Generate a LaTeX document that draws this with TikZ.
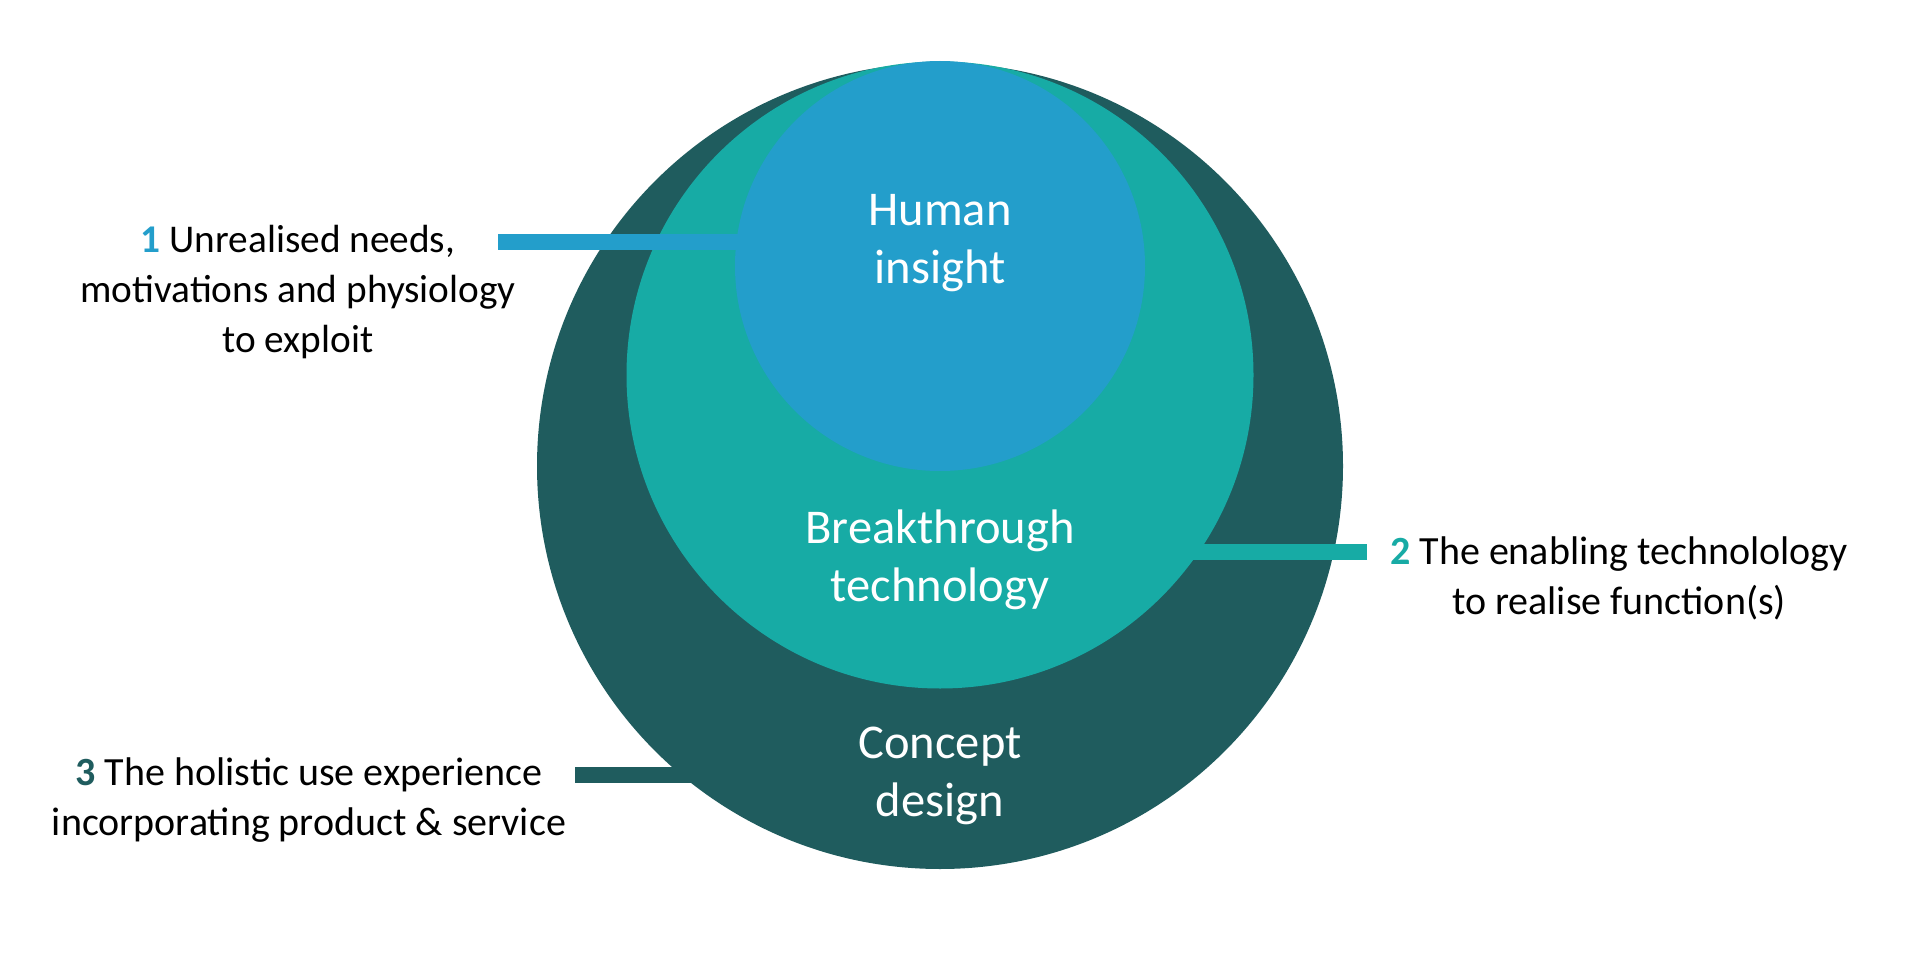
\documentclass[tikz,border=0pt]{standalone}
\usepackage{fontspec}
\setmainfont{Carlito}
\definecolor{cdark}{HTML}{1F5C5E}
\definecolor{cteal}{HTML}{17ABA5}
\definecolor{cblue}{HTML}{239ECB}
\begin{document}
\begin{tikzpicture}[x=1pt,y=-1pt,
  disc/.style={circle,inner sep=0pt,outer sep=0pt,draw=none},
  bar/.style={line width=16pt},
  inlabel/.style={text=white,align=center,font=\fontsize{48.5}{58}\selectfont},
  outlabel/.style={text=black,align=center,font=\fontsize{40}{50}\selectfont}]
\useasboundingbox[fill=white] (0,0) rectangle (1920,960);
% centres
\coordinate (oc) at (940,466);
\coordinate (tc) at (940,375);
\coordinate (bc) at (940,266);
% bar ends
\coordinate (c1) at (498,242);
\coordinate (c2) at (1367,552);
\coordinate (c3) at (575,775);
% bar 3 under outer disc
\draw[bar,cdark] (c3) -- (c3 -| oc);
\node[disc,fill=cdark,minimum size=806pt] (outer) at (oc) {};
% bar 2 under teal disc
\draw[bar,cteal] (c2) -- (c2 -| tc);
\node[disc,fill=cteal,minimum size=627pt] (mid) at (tc) {};
% bar 1 under blue disc
\draw[bar,cblue] (c1) -- (c1 -| bc);
\node[disc,fill=cblue,minimum size=410pt] (inner) at (bc) {};
% circle texts
\node[inlabel] (t1) at (940,243) {Human\\insight};
\node[inlabel] (t2) at (940,560) {Breakthrough\\technology};
\node[inlabel] (t3) at (940,776) {Concept\\design};
% side labels
\node[outlabel,font=\fontsize{39.3}{50}\selectfont] (l1) at (298,292) {\textbf{\textcolor{cblue}{1}} Unrealised needs,\\motivations and physiology\\to exploit};
\node[outlabel] (l2) at (1619,578) {\textbf{\textcolor{cteal}{2}} The enabling technolology\\to realise function(s)};
\node[outlabel] (l3) at (309,800) {\textbf{\textcolor{cdark}{3}} The holistic use experience\\incorporating product \& service};
\end{tikzpicture}
\end{document}
